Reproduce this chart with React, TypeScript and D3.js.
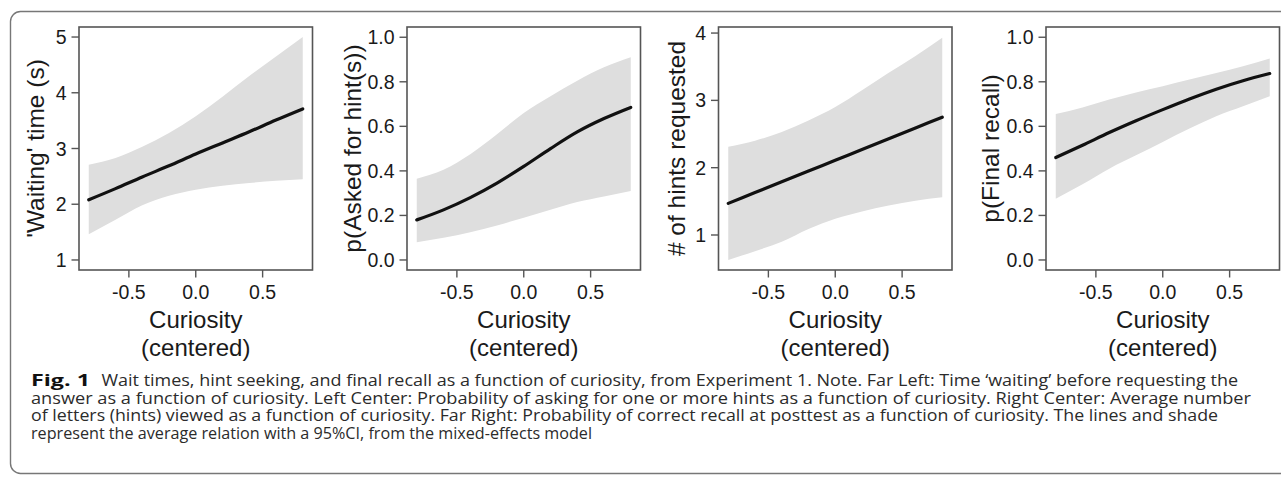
import React from "react";
import { scaleLinear, line, area, curveMonotoneX } from "d3";

// curiosity grid (centered) shared by all four panels
const curiosity = [-0.8, -0.6, -0.4, -0.2, 0, 0.2, 0.4, 0.6, 0.8];
const xTicks = [-0.5, 0, 0.5];

// panel 1: 'waiting' time (s)
const waitFit = [2.08, 2.28, 2.49, 2.69, 2.9, 3.1, 3.3, 3.51, 3.71];
const waitLower = [1.46, 1.72, 1.98, 2.15, 2.26, 2.33, 2.38, 2.42, 2.45];
const waitUpper = [2.71, 2.83, 3.03, 3.28, 3.58, 3.93, 4.3, 4.65, 5.0];
const waitTicks = [1, 2, 3, 4, 5];

// panel 2: p(asked for hint(s))
const hintFit = [0.18, 0.225, 0.28, 0.345, 0.42, 0.5, 0.575, 0.635, 0.685];
const hintLower = [0.08, 0.1, 0.125, 0.155, 0.19, 0.225, 0.26, 0.285, 0.31];
const hintUpper = [0.365, 0.405, 0.475, 0.565, 0.66, 0.735, 0.805, 0.865, 0.91];
const probTicks = [0, 0.2, 0.4, 0.6, 0.8, 1.0];

// panel 3: # of hints requested
const countFit = [1.47, 1.63, 1.79, 1.95, 2.11, 2.27, 2.43, 2.59, 2.75];
const countLower = [0.63, 0.76, 0.9, 1.09, 1.24, 1.35, 1.44, 1.51, 1.56];
const countUpper = [2.31, 2.4, 2.53, 2.7, 2.9, 3.15, 3.41, 3.66, 3.93];
const countTicks = [1, 2, 3, 4];

// panel 4: p(final recall)
const recallFit = [0.46, 0.515, 0.572, 0.625, 0.675, 0.723, 0.767, 0.805, 0.837];
const recallLower = [0.275, 0.34, 0.41, 0.47, 0.53, 0.59, 0.645, 0.69, 0.735];
const recallUpper = [0.655, 0.685, 0.72, 0.752, 0.78, 0.81, 0.84, 0.87, 0.905];

const captionLines = [
  "Wait times, hint seeking, and final recall as a function of curiosity, from Experiment 1. Note. Far Left: Time \u2018waiting\u2019 before requesting the",
  "answer as a function of curiosity. Left Center: Probability of asking for one or more hints as a function of curiosity. Right Center: Average number",
  "of letters (hints) viewed as a function of curiosity. Far Right: Probability of correct recall at posttest as a function of curiosity. The lines and shade",
  "represent the average relation with a 95%CI, from the mixed-effects model",
];

const panels = [
  { ylab: "'Waiting' time (s)", fit: waitFit, lower: waitLower, upper: waitUpper, ticks: waitTicks, domain: [0.82, 5.18], fmt: (d) => String(d), left: 79, labOff: 35.5 },
  { ylab: "p(Asked for hint(s))", fit: hintFit, lower: hintLower, upper: hintUpper, ticks: probTicks, domain: [-0.045, 1.046], fmt: (d) => d.toFixed(1), left: 407, labOff: 46 },
  { ylab: "# of hints requested", fit: countFit, lower: countLower, upper: countUpper, ticks: countTicks, domain: [0.48, 4.09], fmt: (d) => String(d), left: 718.5, labOff: 34 },
  { ylab: "p(Final recall)", fit: recallFit, lower: recallLower, upper: recallUpper, ticks: probTicks, domain: [-0.045, 1.046], fmt: (d) => d.toFixed(1), left: 1046, labOff: 47 },
];

const W = 1281;
const H = 479;
const boxTop = 27;
const boxBottom = 270;
const boxWidth = 233.5;
const font = "Liberation Sans, Arial, Helvetica, sans-serif";

const Panel = ({ p }) => {
  const x = scaleLinear().domain([-0.873, 0.873]).range([p.left, p.left + boxWidth]);
  const y = scaleLinear().domain(p.domain).range([boxBottom, boxTop]);
  const idx = curiosity.map((_, i) => i);

  const band = area()
    .x((i) => x(curiosity[i]))
    .y0((i) => y(p.lower[i]))
    .y1((i) => y(p.upper[i]))
    .curve(curveMonotoneX);
  const fitLine = line()
    .x((i) => x(curiosity[i]))
    .y((i) => y(p.fit[i]))
    .curve(curveMonotoneX);

  const midY = (boxTop + boxBottom) / 2;
  const labX = p.left - p.labOff;

  return (
    <g>
      <path d={band(idx)} fill="#dedede" />
      <path d={fitLine(idx)} fill="none" stroke="#111" strokeWidth={3.2} strokeLinecap="round" />
      <rect
        x={p.left}
        y={boxTop}
        width={boxWidth}
        height={boxBottom - boxTop}
        fill="none"
        stroke="#555"
        strokeWidth={1.6}
      />
      {/* y axis */}
      {p.ticks.map((t) => (
        <g key={t}>
          <line x1={p.left - 7.5} x2={p.left} y1={y(t)} y2={y(t)} stroke="#555" strokeWidth={1.4} />
          <text x={p.left - 12.5} y={y(t)} dy="0.36em" textAnchor="end" fontSize={19.5} fill="#1a1a1a">
            {p.fmt(t)}
          </text>
        </g>
      ))}
      {/* x axis */}
      {xTicks.map((t) => (
        <g key={t}>
          <line x1={x(t)} x2={x(t)} y1={boxBottom} y2={boxBottom + 7.5} stroke="#555" strokeWidth={1.4} />
          <text x={x(t)} y={299} textAnchor="middle" fontSize={19.5} fill="#1a1a1a">
            {t === 0 ? "0.0" : t.toFixed(1)}
          </text>
        </g>
      ))}
      <text x={p.left + boxWidth / 2} y={327.5} textAnchor="middle" fontSize={24} fill="#1a1a1a">
        Curiosity
      </text>
      <text x={p.left + boxWidth / 2} y={356} textAnchor="middle" fontSize={24} fill="#1a1a1a">
        (centered)
      </text>
      <text
        transform={`translate(${labX}, ${midY}) rotate(-90)`}
        textAnchor="middle"
        fontSize={24.5}
        fill="#1a1a1a"
      >
        {p.ylab}
      </text>
    </g>
  );
};

export default function App() {
  const capFont = "'Open Sans', 'Noto Sans', sans-serif";
  const capBase = [386, 403.5, 421, 438.5];
  const capEnds = [1238, 1251, 1218, 592];
  return (
    <div style={{ position: "absolute", left: 0, top: 0 }}>
      <svg width={W} height={H} fontFamily={font} style={{ display: "block", background: "#fff" }}>
        <rect x={10.5} y={11.5} width={1320} height={462} rx={10} fill="none" stroke="#777" strokeWidth={1.4} />
        {panels.map((p) => (
          <Panel key={p.ylab} p={p} />
        ))}
        <g fontFamily={capFont} fontSize={16} fill="#2b2b2b">
          <text x={31} y={capBase[0]} fontWeight="bold" fill="#111" textLength={59} lengthAdjust="spacingAndGlyphs">
            Fig. 1
          </text>
          {captionLines.map((s, i) => {
            const x0 = i === 0 ? 101.5 : 31;
            return (
              <text key={i} x={x0} y={capBase[i]} textLength={capEnds[i] - x0} lengthAdjust="spacingAndGlyphs">
                {s}
              </text>
            );
          })}
        </g>
      </svg>
    </div>
  );
}
